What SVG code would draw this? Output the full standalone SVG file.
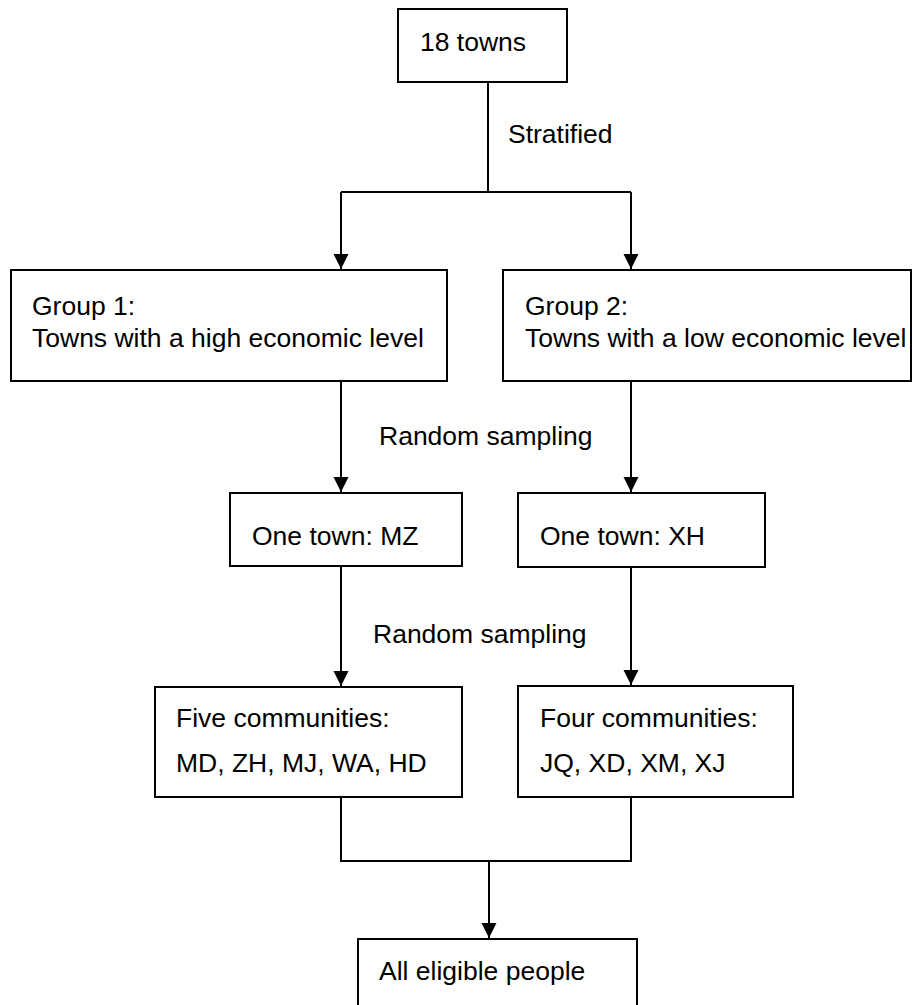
<svg xmlns="http://www.w3.org/2000/svg" width="915" height="1005" viewBox="0 0 915 1005">
  <style>
    .box { fill: #ffffff; stroke: #000000; stroke-width: 2; }
    .line { fill: none; stroke: #000000; stroke-width: 2; }
    .label { font-family: "Liberation Sans", Arial, sans-serif; font-size: 26.5px; fill: #000000; }
  </style>
  <defs>
    <marker id="arrow" markerUnits="userSpaceOnUse" markerWidth="16" markerHeight="16" refX="15" refY="7.5" orient="auto">
      <path d="M0,0 L15,7.5 L0,15 Z" fill="#000000"/>
    </marker>
  </defs>
  <rect width="915" height="1005" fill="#ffffff"/>

  <!-- connectors -->
  <g id="connectors">
    <path class="line" d="M488,82 V192"/>
    <path class="line" d="M341,192 H631"/>
    <path class="line" d="M341,192 V269" marker-end="url(#arrow)"/>
    <path class="line" d="M631,192 V269" marker-end="url(#arrow)"/>
    <path class="line" d="M341,381 V492" marker-end="url(#arrow)"/>
    <path class="line" d="M631,381 V492" marker-end="url(#arrow)"/>
    <path class="line" d="M341,566 V686" marker-end="url(#arrow)"/>
    <path class="line" d="M631,567 V685" marker-end="url(#arrow)"/>
    <path class="line" d="M341,797 V861 H631 V797"/>
    <path class="line" d="M489,861 V938" marker-end="url(#arrow)"/>
    <text class="label" x="508" y="143">Stratified</text>
    <text class="label" x="379" y="445">Random sampling</text>
    <text class="label" x="373" y="643">Random sampling</text>
  </g>

  <g id="towns">
    <rect class="box" x="398" y="9" width="169" height="73"/>
    <text class="label" x="420" y="51">18 towns</text>
  </g>

  <g id="group1">
    <rect class="box" x="11" y="270" width="436" height="111"/>
    <text class="label" x="32" y="315">Group 1:</text>
    <text class="label" x="32" y="347">Towns with a high economic level</text>
  </g>

  <g id="group2">
    <rect class="box" x="503" y="270" width="408" height="111"/>
    <text class="label" x="525" y="315">Group 2:</text>
    <text class="label" x="525" y="347">Towns with a low economic level</text>
  </g>

  <g id="town-mz">
    <rect class="box" x="230" y="493" width="232" height="73"/>
    <text class="label" x="252" y="545">One town: MZ</text>
  </g>

  <g id="town-xh">
    <rect class="box" x="518" y="493" width="247" height="74"/>
    <text class="label" x="540" y="545">One town: XH</text>
  </g>

  <g id="communities-mz">
    <rect class="box" x="155" y="687" width="307" height="110"/>
    <text class="label" x="176" y="727">Five communities:</text>
    <text class="label" x="176" y="772">MD, ZH, MJ, WA, HD</text>
  </g>

  <g id="communities-xh">
    <rect class="box" x="518" y="686" width="275" height="111"/>
    <text class="label" x="540" y="727">Four communities:</text>
    <text class="label" x="540" y="772">JQ, XD, XM, XJ</text>
  </g>

  <g id="eligible">
    <rect class="box" x="358" y="939" width="279" height="80"/>
    <text class="label" x="379" y="980">All eligible people</text>
  </g>
</svg>
